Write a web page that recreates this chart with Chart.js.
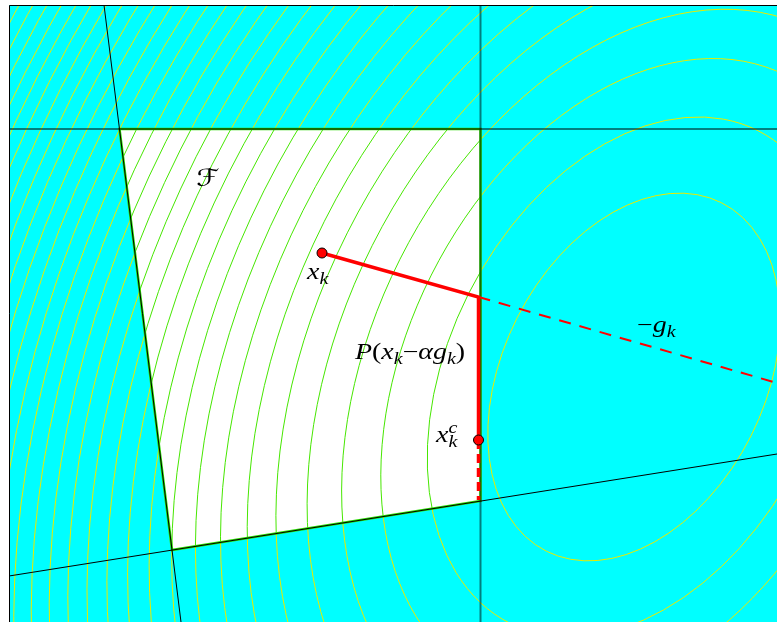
<!DOCTYPE html>
<html>
<head>
<meta charset="utf-8">
<script src="https://cdn.jsdelivr.net/npm/chart.js@4.4.0/dist/chart.umd.min.js"></script>
<style>html,body{margin:0;padding:0;background:#fff}canvas{display:block}</style>
</head>
<body>
<canvas id="c" width="777" height="622"></canvas>
<script>
// contour levels of the quadratic (radius grows with sqrt(level))
var levels = [1,2,3,4,5,6,7,8,9,10,11,12,13,14,15,16,17,18,19,20,21,22,23,24,25,26,27,28,29,30,31,32,33];
var contourCenter = [625, 245];
var contourAxes = [195, 131];   // semi axes of level 1
var contourAngle = 63.3;        // degrees, major axis

// feasible region F
var regionX = [110.5, 471.5, 471.5, 163];
var regionY = [493, 493, 121, 72];

// constraint lines (end points)
var topLineX = [0, 768],        topLineY = [493, 493];
var rightLineX = [471.5, 471.5], rightLineY = [0, 617];
var leftLineX = [95, 172],      leftLineY = [617, 0];
var bottomLineX = [0, 768],     bottomLineY = [46, 168];

// iterate and projections
var stepX = [313, 469.5, 469.5],  stepY = [369, 325, 182];
var tailX = [469.5, 469.5],       tailY = [182, 122];
var gradX = [469.5, 768],         gradY = [325, 239];
var pointX = [313, 469.5],        pointY = [369, 182];

var labelX = [187, 298, 346, 628, 427];
var labelY = [436, 343, 263, 290, 180];

function pts(xs, ys) {
  var out = [];
  for (var i = 0; i < xs.length; i++) out.push({x: xs[i], y: ys[i]});
  return out;
}

function ellipsePath(ctx, xs, ys, L) {
  var px = xs.getPixelForValue(contourCenter[0]);
  var py = ys.getPixelForValue(contourCenter[1]);
  var kx = xs.getPixelForValue(1) - xs.getPixelForValue(0);
  var ky = ys.getPixelForValue(1) - ys.getPixelForValue(0);
  ctx.save();
  ctx.translate(px, py);
  ctx.scale(kx, ky);
  ctx.rotate(contourAngle * Math.PI / 180);
  ctx.beginPath();
  ctx.ellipse(0, 0, contourAxes[0] * Math.sqrt(L), contourAxes[1] * Math.sqrt(L), 0, 0, 2 * Math.PI);
  ctx.restore();
}

function regionPath(ctx, xs, ys) {
  ctx.beginPath();
  for (var i = 0; i < regionX.length; i++) {
    var px = xs.getPixelForValue(regionX[i]), py = ys.getPixelForValue(regionY[i]);
    if (i == 0) ctx.moveTo(px, py); else ctx.lineTo(px, py);
  }
  ctx.closePath();
}

var contours = {
  id: 'contours',
  beforeDatasetsDraw: function(chart) {
    var ctx = chart.ctx, a = chart.chartArea;
    var xs = chart.scales.x, ys = chart.scales.y;
    ctx.save();
    ctx.beginPath();
    ctx.rect(a.left, a.top, a.right - a.left, a.bottom - a.top);
    ctx.clip();
    ctx.fillStyle = '#00ffff';
    ctx.fillRect(a.left, a.top, a.right - a.left, a.bottom - a.top);
    ctx.lineWidth = 1;
    ctx.strokeStyle = 'rgb(235,235,0)';
    levels.forEach(function(L) { ellipsePath(ctx, xs, ys, L); ctx.stroke(); });

    regionPath(ctx, xs, ys);
    ctx.fillStyle = '#ffffff';
    ctx.fill();
    ctx.save();
    regionPath(ctx, xs, ys);
    ctx.clip();
    ctx.strokeStyle = 'rgb(70,230,0)';
    levels.forEach(function(L) { ellipsePath(ctx, xs, ys, L); ctx.stroke(); });
    ctx.restore();

    regionPath(ctx, xs, ys);
    ctx.strokeStyle = 'rgb(40,220,0)';
    ctx.lineWidth = 2.5;
    ctx.stroke();
    ctx.restore();
  },
  afterDatasetsDraw: function(chart) {
    var ctx = chart.ctx, a = chart.chartArea;
    var xs = chart.scales.x, ys = chart.scales.y;
    ctx.save();
    ctx.strokeStyle = '#000';
    ctx.lineWidth = 1;
    ctx.beginPath();
    ctx.moveTo(a.left + 0.5, a.bottom);
    ctx.lineTo(a.left + 0.5, a.top + 0.5);
    ctx.lineTo(a.right, a.top + 0.5);
    ctx.stroke();

    var labels = [
      [['\u2131', 'c', 0]],
      [['x', 'i', 0], ['k', 'i', 'sub']],
      [['P', 'i', 0], ['(', 'r', 0], ['x', 'i', 0], ['k', 'i', 'sub'], ['\u2212', 'r', 0],
       ['\u03b1', 'i', 0], ['g', 'i', 0], ['k', 'i', 'sub'], [')', 'r', 0]],
      [['\u2212', 'r', 0], ['g', 'i', 0], ['k', 'i', 'sub']],
      [['x', 'i', 0], ['c', 'i', 'sup'], ['k', 'i', 'sub']]
    ];
    var size = 22.5, stretch = 1.24;
    ctx.fillStyle = '#000';
    ctx.textBaseline = 'alphabetic';
    for (var i = 0; i < labels.length; i++) {
      var x = xs.getPixelForValue(labelX[i]), y = ys.getPixelForValue(labelY[i]);
      labels[i].forEach(function(p) {
        var s = size, dy = 0;
        if (p[2] == 'sub') { s = size * 0.72; dy = size * 0.24; }
        if (p[2] == 'sup') { s = size * 0.72; dy = -size * 0.42; }
        if (p[1] == 'c') ctx.font = 'italic 24px "DejaVu Sans", sans-serif';
        else ctx.font = (p[1] == 'i' ? 'italic ' : '') + s + 'px "Liberation Serif", serif';
        ctx.save();
        ctx.translate(x, y + dy);
        ctx.scale(stretch, 1);
        ctx.fillText(p[0], 0, 0);
        ctx.restore();
        var w = ctx.measureText(p[0]).width * stretch;
        if (p[2] == 'sup') return;
        x += w;
      });
    }
    ctx.restore();
  }
};

var lineStyle = {showLine: true, pointRadius: 0, fill: false, borderWidth: 1, borderColor: '#000'};

new Chart(document.getElementById('c'), {
  type: 'scatter',
  data: {
    datasets: [
      Object.assign({}, lineStyle, {data: pts(pointX, pointY), showLine: false, pointRadius: 5,
        pointBackgroundColor: '#ff0000', pointBorderColor: '#000', pointBorderWidth: 1, order: 0}),
      Object.assign({}, lineStyle, {data: pts(stepX, stepY), borderColor: '#ff0000', borderWidth: 3.5, order: 1}),
      Object.assign({}, lineStyle, {data: pts(tailX, tailY), borderColor: '#ff0000', borderWidth: 3.5, borderDash: [9, 5], order: 2}),
      Object.assign({}, lineStyle, {data: pts(gradX, gradY), borderColor: '#ff0000', borderWidth: 2, borderDash: [12, 9], order: 3}),
      Object.assign({}, lineStyle, {data: pts(topLineX, topLineY), order: 4}),
      Object.assign({}, lineStyle, {data: pts(rightLineX, rightLineY), borderColor: 'rgba(0,0,0,0.5)', borderWidth: 2, order: 5}),
      Object.assign({}, lineStyle, {data: pts(leftLineX, leftLineY), order: 6}),
      Object.assign({}, lineStyle, {data: pts(bottomLineX, bottomLineY), order: 7})
    ]
  },
  options: {
    responsive: false,
    animation: false,
    devicePixelRatio: 1,
    layout: {autoPadding: false, padding: {left: 9, top: 5, right: 0, bottom: 0}},
    plugins: {legend: {display: false}, tooltip: {enabled: false}},
    scales: {
      x: {type: 'linear', min: 0, max: 768, display: false},
      y: {type: 'linear', min: 0, max: 617, display: false}
    }
  },
  plugins: [contours]
});
</script>
</body>
</html>
